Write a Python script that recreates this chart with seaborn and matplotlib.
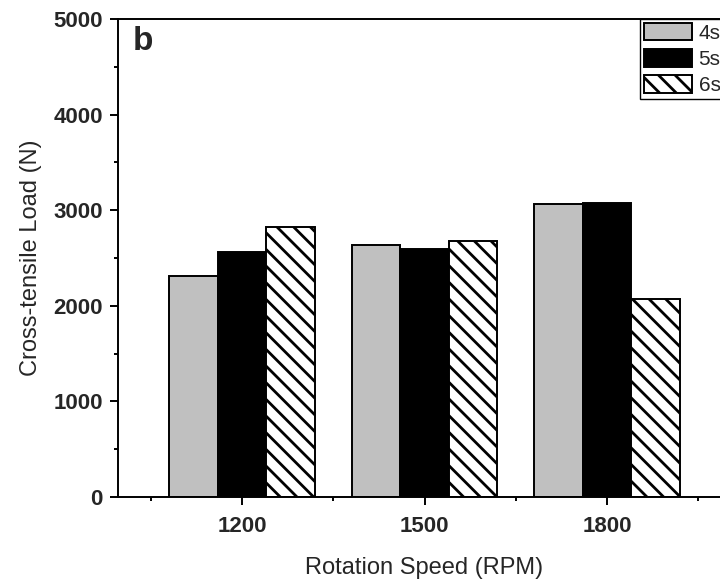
# Cross-tensile load vs rotation speed, grouped bars
import seaborn as sns
import matplotlib.pyplot as plt
import matplotlib.patches as mpatches
from matplotlib.ticker import MultipleLocator, FixedLocator
import pandas as pd

# Data
speeds = ['1200', '1500', '1800']
times = ['4s', '5s', '6s']
load_4s = [2307, 2636, 3068]
load_5s = [2562, 2594, 3075]
load_6s = [2820, 2677, 2073]

rows = []
for t, vals in zip(times, [load_4s, load_5s, load_6s]):
    for s, v in zip(speeds, vals):
        rows.append({'Speed': s, 'Time': t, 'Load': v})
dataset = pd.DataFrame(rows)

sns.set_style('ticks')
plt.rcParams['font.family'] = ['Liberation Sans', 'DejaVu Sans']
plt.rcParams['hatch.linewidth'] = 2.0

fig = plt.figure(figsize=(7.2, 5.85), dpi=100)
ax = fig.add_axes([118 / 720, 88 / 585, 613 / 720, 478 / 585])

colors = ['#c0c0c0', '#000000', '#ffffff']
sns.barplot(data=dataset, x='Speed', y='Load', hue='Time', order=speeds,
            hue_order=times, palette=colors, width=0.8, edgecolor='black',
            linewidth=1.4, saturation=1, ax=ax, legend=False)

# hatch the 6s bars
for bar in ax.containers[2]:
    bar.set_hatch('\\\\')
    bar.set_edgecolor('black')

ax.set_xlim(-0.68, 2.68)
ax.set_ylim(0, 5000)
ax.yaxis.set_major_locator(MultipleLocator(1000))
ax.yaxis.set_minor_locator(MultipleLocator(500))
ax.xaxis.set_minor_locator(FixedLocator([-0.5, 0.5, 1.5, 2.5]))

for side in ['left', 'bottom', 'top', 'right']:
    ax.spines[side].set_visible(True)
    ax.spines[side].set_linewidth(1.4)
    ax.spines[side].set_color('black')

ax.tick_params(which='major', direction='out', length=6, width=1.4,
               labelsize=16, pad=5, color='black')
ax.tick_params(which='minor', direction='out', length=3, width=1.4, color='black')
ax.tick_params(axis='x', which='major', pad=8)
for lbl in ax.get_xticklabels() + ax.get_yticklabels():
    lbl.set_fontweight('bold')

ax.set_xlabel('Rotation Speed (RPM)', fontsize=17, labelpad=14)
ax.set_ylabel('Cross-tensile Load (N)', fontsize=17, labelpad=8)

ax.text(0.024, 0.985, 'b', transform=ax.transAxes, fontsize=24,
        fontweight='bold', va='top', ha='left')

handles = [mpatches.Patch(facecolor=colors[0], edgecolor='black', linewidth=1.4),
           mpatches.Patch(facecolor=colors[1], edgecolor='black', linewidth=1.4),
           mpatches.Patch(facecolor=colors[2], edgecolor='black', linewidth=1.4,
                          hatch='\\\\')]
leg = ax.legend(handles, times, loc='upper left', bbox_to_anchor=(0.852, 1.0),
                borderaxespad=0, fontsize=15, handlelength=2.3, handleheight=0.9,
                labelspacing=0.3, borderpad=0.2, handletextpad=0.3,
                fancybox=False, framealpha=1, edgecolor='black')
leg.get_frame().set_linewidth(1.0)

fig.savefig('out.png', dpi=100)
